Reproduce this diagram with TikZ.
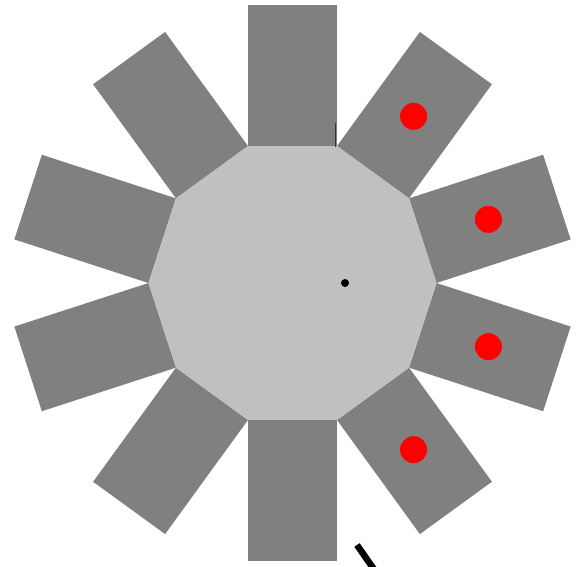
\documentclass[tikz,border=0pt]{standalone}
\usepackage{xcolor}
\usepackage{tikz}
\definecolor{armgray}{HTML}{808080}
\definecolor{hubgray}{HTML}{C0C0C0}
\definecolor{mark}{HTML}{FF0000}
\tikzset{arm/.style={fill=armgray},hub/.style={fill=hubgray},sensor/.style={fill=mark}}

\begin{document}
\begin{tikzpicture}[x=1pt,y=1pt]
\useasboundingbox (-292.5,-283) rectangle (291.5,283);
\clip (-292.5,-283) rectangle (291.5,283);
% arms around the hub
\foreach \a in {0,36,...,324}
  \path[arm,rotate=\a] (-44.5,137) rectangle (44.5,278);
% hub
\path[hub] (72:144) \foreach \k in {1,...,9} { -- ({72+36*\k}:144) } -- cycle;
% red markers
\foreach \a in {54,18,-18,-54}
  \path[sensor] (\a:206) circle (13.5);
\fill[black] (52.5,0) circle (4);
\draw[gray!40!black,line width=0.8pt] (42.5,160) -- (42.5,136);
\draw[black,line width=6.5pt] (64.5,-262) -- (84,-290);
\end{tikzpicture}
\end{document}
